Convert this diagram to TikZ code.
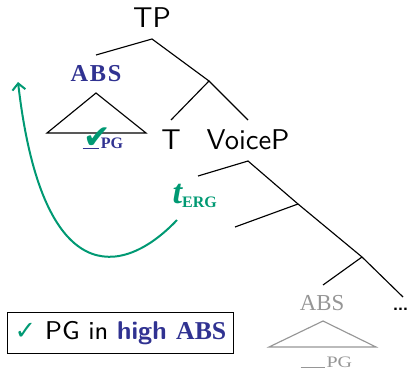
\documentclass[tikz,border=0pt]{standalone}
\usepackage{fontspec}
\usetikzlibrary{arrows.meta}
\newfontfamily\glossfont{Liberation Serif}
\newfontfamily\widegloss[FakeStretch=1.25]{Liberation Serif}
\newfontfamily\symbfont{DejaVu Sans}
\definecolor{absblue}{RGB}{48,50,145}
\definecolor{erggreen}{RGB}{0,153,115}
\definecolor{lowgray}{RGB}{150,150,150}
\newcommand{\gapline}[1]{\rule[-0.4pt]{#1}{0.5pt}}
\newcommand{\subfont}{\glossfont\fontsize{5.6}{6}\selectfont}

\begin{document}
\begin{tikzpicture}[x=0.35pt, y=-0.35pt, >={Straight Barb[length=0.8mm, width=1.6mm]},
	cat/.style={font=\sffamily, inner sep=0pt},
	gloss/.style={font=\glossfont\bfseries\fontsize{8.5}{10}\selectfont, text=absblue, inner sep=0pt},
	lowgloss/.style={font=\glossfont\fontsize{8}{10}\selectfont, text=lowgray, inner sep=0pt}]
	\useasboundingbox (0,0) rectangle (413,369);
	% upper tree
	\node[cat] (tp) at (152,18) {TP};
	\node[cat] (t) at (171,140) {T};
	\node[cat] (voicep) at (248,140) {VoiceP};
	\coordinate (tptop) at (152,39);
	\coordinate (specend) at (96,55);
	\coordinate (tbar) at (209,81);
	\coordinate (tend) at (171,120);
	\coordinate (vpend) at (248,120);
	\draw (specend) -- (tptop) -- (tbar) -- (tend);
	\draw (tbar) -- (vpend);
	% high ABS
	\node[gloss] (abshigh) at (96,74) {A\kern0.6pt B\kern0.6pt S};
	\coordinate (triapex) at (96,93);
	\coordinate (trileft) at (47,133);
	\coordinate (triright) at (146,133);
	\draw (triapex) -- (trileft) -- (triright) -- cycle;
	\node[anchor=base west, inner sep=0pt, text=absblue] (pghigh) at (82,148)
		{\makebox[0pt][l]{\hspace{0.3pt}\raisebox{-0.3pt}{\textcolor{erggreen}{\symbfont\fontsize{11.5}{12}\selectfont ✔}}}\gapline{5.8pt}\hspace{0.6pt}{\subfont\bfseries PG}};
	% lower tree
	\coordinate (vptop) at (248,161);
	\coordinate (vpspec) at (198,176);
	\coordinate (vbarA) at (298,204);
	\coordinate (vbarAspec) at (235,227);
	\coordinate (vbarB) at (362,257);
	\coordinate (abslowend) at (323,285);
	\coordinate (dotsend) at (403,297);
	\draw (vpspec) -- (vptop) -- (vbarA) -- (vbarB) -- (dotsend);
	\draw (vbarA) -- (vbarAspec);
	\draw (vbarB) -- (abslowend);
	\node[lowgloss] (abslow) at (322,303) {ABS};
	\node[cat, anchor=base west] (dots) at (391,310) {\dots};
	\coordinate (lowapex) at (323,321);
	\coordinate (lowleft) at (269,347);
	\coordinate (lowright) at (376,347);
	\draw[lowgray] (lowapex) -- (lowleft) -- (lowright) -- cycle;
	\node[anchor=base west, inner sep=0pt, text=lowgray] (pglow) at (300,367)
		{\gapline{8.4pt}\hspace{0.7pt}{\widegloss\fontsize{5.6}{6}\selectfont PG}};
	% ERG trace and movement
	\node[inner sep=0pt, text=erggreen, anchor=base west] (terg) at (172,203)
		{{\glossfont\bfseries\itshape\fontsize{12}{12}\selectfont t}\raisebox{-1.4pt}{\subfont\bfseries ERG}};
	\coordinate (tail) at (177,220);
	\coordinate (land) at (18,82);
	\draw[->, erggreen, line width=0.7pt] (tail) .. controls (122,278) and (42,290) .. (land);
	% legend
	\node[draw, inner xsep=2.6pt, inner ysep=3.2pt, font=\sffamily\small] (legend) at (120.5,333)
		{\textcolor{erggreen}{\symbfont ✓} PG in \textcolor{absblue}{\bfseries high \glossfont ABS}};
\end{tikzpicture}
\end{document}
